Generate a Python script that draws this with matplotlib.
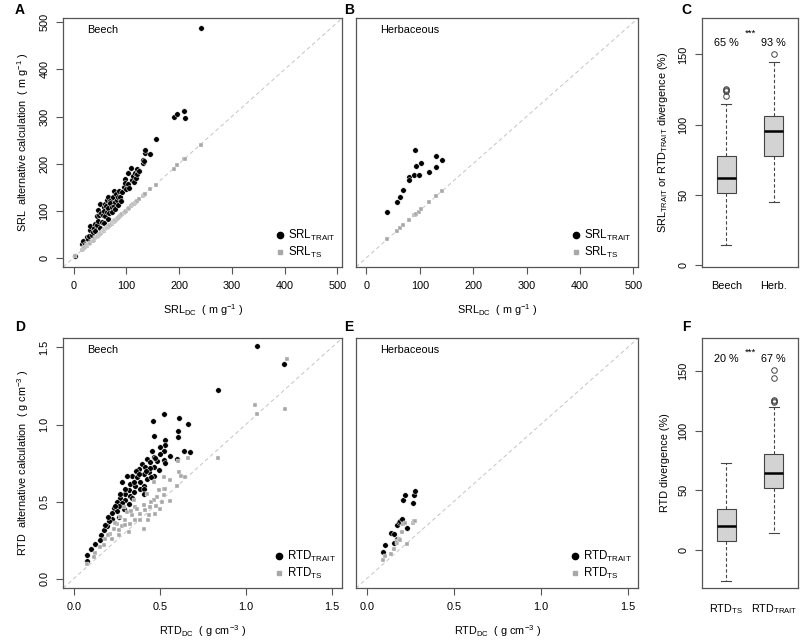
import matplotlib
matplotlib.use('Agg')
import matplotlib.pyplot as plt
from matplotlib.lines import Line2D

plt.rcParams['font.family'] = ['Liberation Sans', 'DejaVu Sans']
plt.rcParams['mathtext.fontset'] = 'custom'
plt.rcParams['mathtext.rm'] = 'Liberation Sans'
plt.rcParams['mathtext.default'] = 'regular'

# --- SRL, beech (m g-1)
srl_dc_beech = [3, 16, 18, 20, 22, 25, 26, 28, 30, 32, 32, 35, 36, 38, 41, 41, 44, 44, 47, 47,
                49, 50, 51, 52, 54, 56, 57, 57, 58, 60, 60, 62, 63, 63, 66, 66, 66, 68, 70, 70,
                72, 73, 75, 76, 77, 78, 79, 81, 82, 84, 85, 87, 89, 90, 92, 95, 97, 98, 100, 103,
                104, 106, 109, 111, 113, 114, 116, 118, 120, 121, 125, 131, 131, 133, 135, 135, 145, 156, 190, 197,
                210, 211, 241]
srl_trait_beech = [3, 28, 35, 25, 30, 44, 32, 39, 45, 58, 68, 49, 55, 63, 56, 72, 70, 88, 77, 102,
                   91, 63, 114, 95, 75, 91, 74, 107, 100, 88, 114, 110, 96, 123, 82, 105, 130, 95, 120, 116,
                   108, 98, 128, 110, 142, 118, 103, 135, 123, 128, 112, 142, 130, 120, 140, 150, 168, 158, 145, 180,
                   156, 148, 190, 165, 173, 160, 180, 170, 178, 188, 185, 202, 208, 205, 222, 228, 221, 253, 300, 305,
                   312, 296, 488]
srl_ts_beech = [3, 16, 18, 20, 22, 25, 26, 28, 30, 32, 32, 35, 36, 38, 41, 41, 44, 44, 47, 47,
                49, 50, 51, 52, 54, 56, 57, 57, 58, 60, 60, 62, 63, 63, 66, 66, 66, 68, 70, 70,
                72, 73, 75, 76, 77, 78, 79, 81, 82, 84, 85, 87, 89, 90, 92, 95, 97, 98, 100, 103,
                104, 106, 109, 111, 113, 114, 116, 118, 120, 121, 125, 131, 131, 133, 135, 135, 145, 155, 189, 196,
                209, 210, 239]

# --- SRL, herbaceous
srl_dc_herb = [39, 57, 63, 69, 79, 79, 90, 91, 92, 98, 103, 117, 131, 131, 141]
srl_trait_herb = [98, 118, 128, 144, 172, 165, 175, 228, 194, 176, 201, 182, 217, 192, 208]
srl_ts_herb = [40, 57, 63, 70, 79, 80, 90, 91, 93, 98, 104, 118, 132, 132, 142]

# --- RTD, beech (g cm-3)
rtd_beech_x_trait = [1.068, 1.225, 0.837, 0.526, 0.458, 0.610, 0.664, 0.608, 0.466, 0.608, 0.528, 0.643, 0.676, 0.602,
                     0.532, 0.499, 0.557, 0.522, 0.454, 0.464, 0.503, 0.522, 0.483, 0.532, 0.425, 0.445, 0.396, 0.416,
                     0.464, 0.493, 0.377, 0.435, 0.406, 0.464, 0.338, 0.367, 0.425, 0.309, 0.280, 0.386, 0.328, 0.357,
                     0.406, 0.386, 0.319, 0.348, 0.299, 0.328, 0.270, 0.299, 0.251, 0.280, 0.319, 0.260, 0.231, 0.289,
                     0.251, 0.221, 0.260, 0.221, 0.202, 0.192, 0.173, 0.157, 0.150, 0.124, 0.099, 0.076, 0.076, 0.408,
                     0.408, 0.360, 0.440, 0.470, 0.350, 0.300, 0.240, 0.270, 0.200, 0.180, 0.340, 0.380, 0.420, 0.450]
rtd_beech_y_trait = [1.507, 1.394, 1.224, 1.066, 1.023, 1.040, 1.001, 0.960, 0.928, 0.917, 0.898, 0.829, 0.824, 0.777,
                     0.870, 0.857, 0.794, 0.831, 0.827, 0.792, 0.809, 0.771, 0.762, 0.749, 0.777, 0.755, 0.745, 0.723,
                     0.723, 0.706, 0.712, 0.691, 0.680, 0.669, 0.669, 0.658, 0.647, 0.669, 0.626, 0.626, 0.615, 0.604,
                     0.604, 0.583, 0.572, 0.561, 0.546, 0.533, 0.524, 0.511, 0.496, 0.490, 0.481, 0.468, 0.460, 0.453,
                     0.438, 0.425, 0.403, 0.388, 0.373, 0.339, 0.313, 0.280, 0.252, 0.227, 0.194, 0.151, 0.114, 0.583,
                     0.551, 0.700, 0.720, 0.780, 0.630, 0.580, 0.470, 0.550, 0.400, 0.350, 0.520, 0.680, 0.700, 0.660]
rtd_beech_x_ts = [1.054, 1.068, 1.229, 1.239, 0.839, 0.666, 0.608, 0.613, 0.624, 0.647, 0.598, 0.522, 0.557, 0.522,
                  0.493, 0.522, 0.557, 0.512, 0.483, 0.464, 0.503, 0.474, 0.445, 0.435, 0.406, 0.416, 0.386, 0.406,
                  0.357, 0.386, 0.338, 0.328, 0.309, 0.357, 0.299, 0.280, 0.260, 0.251, 0.231, 0.212, 0.260, 0.221,
                  0.183, 0.173, 0.150, 0.124, 0.115, 0.074, 0.464, 0.425, 0.348, 0.289, 0.450, 0.370, 0.330, 0.270,
                  0.240, 0.320, 0.200, 0.300, 0.430, 0.480, 0.530]
rtd_beech_y_ts = [1.127, 1.066, 1.100, 1.425, 0.783, 0.781, 0.762, 0.690, 0.669, 0.662, 0.600, 0.658, 0.641, 0.583,
                  0.572, 0.540, 0.503, 0.496, 0.529, 0.507, 0.453, 0.417, 0.464, 0.410, 0.475, 0.442, 0.421, 0.324,
                  0.378, 0.378, 0.410, 0.356, 0.432, 0.464, 0.378, 0.339, 0.313, 0.356, 0.324, 0.291, 0.280, 0.259,
                  0.259, 0.216, 0.205, 0.166, 0.140, 0.097, 0.626, 0.550, 0.507, 0.464, 0.500, 0.450, 0.440, 0.400,
                  0.360, 0.300, 0.280, 0.350, 0.380, 0.470, 0.580]

# --- RTD, herbaceous
rtd_dc_herb = [0.095, 0.105, 0.141, 0.154, 0.156, 0.172, 0.175, 0.187, 0.190, 0.204, 0.210, 0.217, 0.229, 0.263,
               0.269, 0.278]
rtd_trait_herb = [0.171, 0.218, 0.296, 0.231, 0.287, 0.259, 0.350, 0.365, 0.373, 0.388, 0.513, 0.544, 0.328, 0.492,
                  0.544, 0.568]
rtd_ts_herb = [0.118, 0.149, 0.158, 0.190, 0.190, 0.231, 0.242, 0.259, 0.250, 0.300, 0.352, 0.362, 0.222, 0.362,
               0.377, 0.377]

# --- divergence boxplots (%)
srl_box_names = ['Beech', 'Herb.']
srl_box_stats = {'whislo': [14.2, 44.6], 'q1': [51.5, 77.4], 'med': [62.2, 95.4],
                 'q3': [77.6, 106.0], 'whishi': [114.9, 144.5]}
srl_box_fliers = [[120.0, 124.0, 124.6, 125.3], [150.5]]
srl_box_means = ['65 %', '93 %']

rtd_box_names = ['$RTD_{TS}$', '$RTD_{TRAIT}$']
rtd_box_stats = {'whislo': [-26.4, 14.3], 'q1': [7.0, 51.9], 'med': [19.9, 64.2],
                 'q3': [34.5, 80.7], 'whishi': [72.9, 120.0]}
rtd_box_fliers = [[], [124.0, 124.6, 125.3, 143.8, 150.8]]
rtd_box_means = ['20 %', '67 %']

FS = 7.8
FRAME = '#555555'


def style(ax):
    for sp in ax.spines.values():
        sp.set_color(FRAME)
        sp.set_linewidth(0.9)
    ax.tick_params(colors=FRAME, labelcolor='black', labelsize=FS, length=5, width=0.8, pad=5)
    ax.tick_params(axis='y', labelrotation=90)
    for lab in ax.get_yticklabels():
        lab.set_va('center')


def scatter_panel(ax, xt, yt, xs, ys, lim, ticks, fmt, site, names, left):
    ax.axline((0, 0), slope=1, color='#c4c4c4', lw=0.7, ls=(0, (4, 3)), zorder=1)
    ax.scatter(xt, yt, s=16, c='black', edgecolors='white', linewidths=0.35, zorder=3)
    ax.scatter(xs, ys, s=9, marker='s', c='#a8a8a8', edgecolors='white', linewidths=0.25, zorder=4)
    ax.set_xlim(lim)
    ax.set_ylim(lim)
    ax.set_xticks(ticks)
    ax.set_xticklabels([fmt.format(t) for t in ticks])
    if left:
        ax.set_yticks(ticks)
        ax.set_yticklabels([fmt.format(t) for t in ticks])
    else:
        ax.set_yticks([])
    style(ax)
    ax.text(0.086, 0.95, site, transform=ax.transAxes, fontsize=FS, va='center', ha='left')
    handles = [Line2D([], [], ls='', marker='o', ms=4.5, mfc='black', mec='black'),
               Line2D([], [], ls='', marker='s', ms=3.5, mfc='#a8a8a8', mec='#a8a8a8')]
    ax.legend(handles, names, loc='lower right', frameon=False, fontsize=FS + 0.5,
              handletextpad=0.1, handlelength=1.2, labelspacing=0.15, borderaxespad=0.2)


def box_panel(ax, stats, fliers, names, means, ylim, yticks, ylabel):
    bxp = []
    for i in range(2):
        bxp.append({'whislo': stats['whislo'][i], 'q1': stats['q1'][i], 'med': stats['med'][i],
                    'q3': stats['q3'][i], 'whishi': stats['whishi'][i], 'fliers': fliers[i]})
    ax.bxp(bxp, positions=[1, 2], widths=0.4, capwidths=0.2, patch_artist=True,
           boxprops=dict(facecolor='#d3d3d3', edgecolor='#444444', lw=0.8),
           medianprops=dict(color='black', lw=1.8),
           whiskerprops=dict(color='#444444', lw=0.8, ls=(0, (3, 2))),
           capprops=dict(color='#444444', lw=0.8),
           flierprops=dict(marker='o', mfc='none', mec='#444444', ms=4, mew=0.7))
    ax.set_xlim(0.5, 2.5)
    ax.set_ylim(ylim)
    ax.set_yticks(yticks)
    ax.set_xticks([1, 2])
    ax.set_xticklabels(names)
    style(ax)
    ax.tick_params(axis='x', length=0, pad=10)
    ax.set_ylabel(ylabel, fontsize=FS, labelpad=6)
    top = ylim[1]
    ax.text(1, top - 18, means[0], ha='center', va='center', fontsize=FS)
    ax.text(2, top - 18, means[1], ha='center', va='center', fontsize=FS)
    ax.text(1.5, top - 8, '***', ha='center', va='top', fontsize=FS - 1)


fig = plt.figure(figsize=(8, 6.4), dpi=100)
top_b, top_h = 0.583, 0.389
bot_b, bot_h = 0.081, 0.391
axA = fig.add_axes([0.079, top_b, 0.349, top_h])
axB = fig.add_axes([0.445, top_b, 0.353, top_h])
axC = fig.add_axes([0.878, top_b, 0.119, top_h])
axD = fig.add_axes([0.079, bot_b, 0.349, bot_h])
axE = fig.add_axes([0.445, bot_b, 0.353, bot_h])
axF = fig.add_axes([0.878, bot_b, 0.119, bot_h])

srl_ticks = [0, 100, 200, 300, 400, 500]
rtd_ticks = [0.0, 0.5, 1.0, 1.5]
srl_names = ['$SRL_{TRAIT}$', '$SRL_{TS}$']
rtd_names = ['$RTD_{TRAIT}$', '$RTD_{TS}$']

scatter_panel(axA, srl_dc_beech, srl_trait_beech, srl_dc_beech, srl_ts_beech,
              (-19.6, 509.6), srl_ticks, '{:d}', 'Beech', srl_names, True)
scatter_panel(axB, srl_dc_herb, srl_trait_herb, srl_dc_herb, srl_ts_herb,
              (-19.6, 509.6), srl_ticks, '{:d}', 'Herbaceous', srl_names, False)
scatter_panel(axD, rtd_beech_x_trait, rtd_beech_y_trait, rtd_beech_x_ts, rtd_beech_y_ts,
              (-0.062, 1.562), rtd_ticks, '{:.1f}', 'Beech', rtd_names, True)
scatter_panel(axE, rtd_dc_herb, rtd_trait_herb, rtd_dc_herb, rtd_ts_herb,
              (-0.062, 1.562), rtd_ticks, '{:.1f}', 'Herbaceous', rtd_names, False)

for ax in (axA, axB):
    ax.set_xlabel('$SRL_{DC}$  ( m g$^{-1}$ )', fontsize=FS, labelpad=8)
for ax in (axD, axE):
    ax.set_xlabel('$RTD_{DC}$  ( g cm$^{-3}$ )', fontsize=FS, labelpad=8)
axA.set_ylabel('SRL  alternative calculation  ( m g$^{-1}$ )', fontsize=FS, labelpad=6)
axD.set_ylabel('RTD  alternative calculation  ( g cm$^{-3}$ )', fontsize=FS, labelpad=6)

box_panel(axC, srl_box_stats, srl_box_fliers, srl_box_names, srl_box_means,
          (-1.5, 176), [0, 50, 100, 150], '$SRL_{TRAIT}$ or $RTD_{TRAIT}$ divergence (%)')
box_panel(axF, rtd_box_stats, rtd_box_fliers, rtd_box_names, rtd_box_means,
          (-32.3, 177.7), [0, 50, 100, 150], 'RTD divergence (%)')

for lab, x, y in [('A', 0.025, 0.995), ('B', 0.436, 0.995), ('C', 0.858, 0.995),
                  ('D', 0.025, 0.5), ('E', 0.436, 0.5), ('F', 0.858, 0.5)]:
    fig.text(x, y, lab, fontsize=10, fontweight='bold', ha='center', va='top')

fig.savefig('out.png', dpi=100)
